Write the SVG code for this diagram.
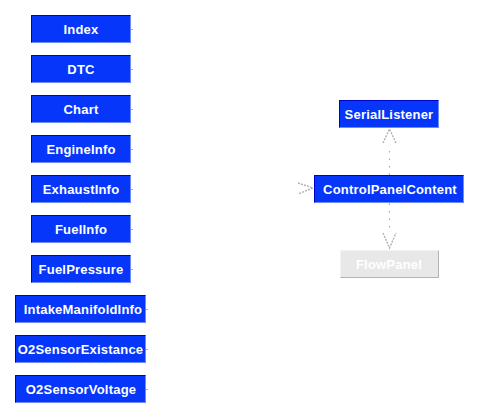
<svg xmlns="http://www.w3.org/2000/svg" width="479" height="418" viewBox="0 0 479 418">
<style>
.box{fill:#0536fa}
.hi{fill:none;stroke:#0000c8;stroke-width:1}
.lo{fill:none;stroke:#6c8cff;stroke-width:1}
.t{font-family:"Liberation Sans",Arial,sans-serif;font-weight:bold;font-size:13px;letter-spacing:0.2px;fill:#ffffff;text-anchor:middle}
.gbox{fill:#e8e8e8}
.ghi{fill:none;stroke:#f2f2f2;stroke-width:1}
.glo{fill:none;stroke:#b4b4b4;stroke-width:1}
.gt{font-family:"Liberation Sans",Arial,sans-serif;font-weight:bold;font-size:13px;letter-spacing:0.2px;fill:#ffffff;text-anchor:middle}
.dot{fill:none;stroke:#a8a8a8;stroke-width:1.2;stroke-dasharray:1.5 6}
.arr{fill:none;stroke:#b0b0b0;stroke-width:1.4;stroke-dasharray:2 1.2}
.tick{stroke:#9aa8d8;stroke-width:1}
</style>
<g id="connectors">
<line class="dot" x1="389.5" y1="175" x2="389.5" y2="148"/>
<polyline class="arr" points="383,143 389.5,129 396,143"/>
<line class="dot" x1="389.5" y1="203.5" x2="389.5" y2="228"/>
<polyline class="arr" points="383,233 389.5,248 396,233"/>
<polyline class="arr" points="298,183 313,188 298,194"/>
<line class="tick" x1="131" y1="29.5" x2="133" y2="29.5"/>
<line class="tick" x1="131" y1="69.5" x2="133" y2="69.5"/>
<line class="tick" x1="131" y1="109.5" x2="133" y2="109.5"/>
<line class="tick" x1="131" y1="149.5" x2="133" y2="149.5"/>
<line class="tick" x1="131" y1="189.5" x2="133" y2="189.5"/>
<line class="tick" x1="131" y1="229.5" x2="133" y2="229.5"/>
<line class="tick" x1="131" y1="269.5" x2="133" y2="269.5"/>
<line class="tick" x1="146" y1="309.5" x2="148" y2="309.5"/>
<line class="tick" x1="146" y1="349.5" x2="148" y2="349.5"/>
<line class="tick" x1="146" y1="389.5" x2="148" y2="389.5"/>
</g>
<g id="Index"><rect class="box" x="31" y="15" width="100" height="28"/><polyline class="hi" points="31.5,42.5 31.5,15.5 130.5,15.5"/><polyline class="lo" points="31.5,42.5 130.5,42.5 130.5,15.5"/><text class="t" x="81" y="33.5">Index</text></g>
<g id="DTC"><rect class="box" x="31" y="55" width="100" height="28"/><polyline class="hi" points="31.5,82.5 31.5,55.5 130.5,55.5"/><polyline class="lo" points="31.5,82.5 130.5,82.5 130.5,55.5"/><text class="t" x="81" y="73.5">DTC</text></g>
<g id="Chart"><rect class="box" x="31" y="95" width="100" height="28"/><polyline class="hi" points="31.5,122.5 31.5,95.5 130.5,95.5"/><polyline class="lo" points="31.5,122.5 130.5,122.5 130.5,95.5"/><text class="t" x="81" y="113.5">Chart</text></g>
<g id="EngineInfo"><rect class="box" x="31" y="135" width="100" height="28"/><polyline class="hi" points="31.5,162.5 31.5,135.5 130.5,135.5"/><polyline class="lo" points="31.5,162.5 130.5,162.5 130.5,135.5"/><text class="t" x="81" y="153.5">EngineInfo</text></g>
<g id="ExhaustInfo"><rect class="box" x="31" y="175" width="100" height="28"/><polyline class="hi" points="31.5,202.5 31.5,175.5 130.5,175.5"/><polyline class="lo" points="31.5,202.5 130.5,202.5 130.5,175.5"/><text class="t" x="81" y="193.5">ExhaustInfo</text></g>
<g id="FuelInfo"><rect class="box" x="31" y="215" width="100" height="28"/><polyline class="hi" points="31.5,242.5 31.5,215.5 130.5,215.5"/><polyline class="lo" points="31.5,242.5 130.5,242.5 130.5,215.5"/><text class="t" x="81" y="233.5">FuelInfo</text></g>
<g id="FuelPressure"><rect class="box" x="31" y="255" width="100" height="28"/><polyline class="hi" points="31.5,282.5 31.5,255.5 130.5,255.5"/><polyline class="lo" points="31.5,282.5 130.5,282.5 130.5,255.5"/><text class="t" x="81" y="273.5">FuelPressure</text></g>
<g id="IntakeManifoldInfo"><rect class="box" x="15" y="295" width="131" height="28"/><polyline class="hi" points="15.5,322.5 15.5,295.5 145.5,295.5"/><polyline class="lo" points="15.5,322.5 145.5,322.5 145.5,295.5"/><text class="t" x="83" y="313.5">IntakeManifoldInfo</text></g>
<g id="O2SensorExistance"><rect class="box" x="15" y="335" width="131" height="28"/><polyline class="hi" points="15.5,362.5 15.5,335.5 145.5,335.5"/><polyline class="lo" points="15.5,362.5 145.5,362.5 145.5,335.5"/><text class="t" x="80.5" y="353.5">O2SensorExistance</text></g>
<g id="O2SensorVoltage"><rect class="box" x="15" y="375" width="131" height="28"/><polyline class="hi" points="15.5,402.5 15.5,375.5 145.5,375.5"/><polyline class="lo" points="15.5,402.5 145.5,402.5 145.5,375.5"/><text class="t" x="81" y="393.5">O2SensorVoltage</text></g>
<g id="SerialListener"><rect class="box" x="339" y="100" width="100" height="28"/><polyline class="hi" points="339.5,127.5 339.5,100.5 438.5,100.5"/><polyline class="lo" points="339.5,127.5 438.5,127.5 438.5,100.5"/><text class="t" x="389" y="118.5">SerialListener</text></g>
<g id="ControlPanelContent"><rect class="box" x="314" y="175" width="150" height="28"/><polyline class="hi" points="314.5,202.5 314.5,175.5 463.5,175.5"/><polyline class="lo" points="314.5,202.5 463.5,202.5 463.5,175.5"/><text class="t" x="390" y="193.5">ControlPanelContent</text></g>
<g id="FlowPanel"><rect class="gbox" x="340" y="250" width="99" height="28"/><polyline class="ghi" points="340.5,277.5 340.5,250.5 438.5,250.5"/><polyline class="glo" points="340.5,277.5 438.5,277.5 438.5,250.5"/><text class="gt" x="389" y="268.5">FlowPanel</text></g>
</svg>
